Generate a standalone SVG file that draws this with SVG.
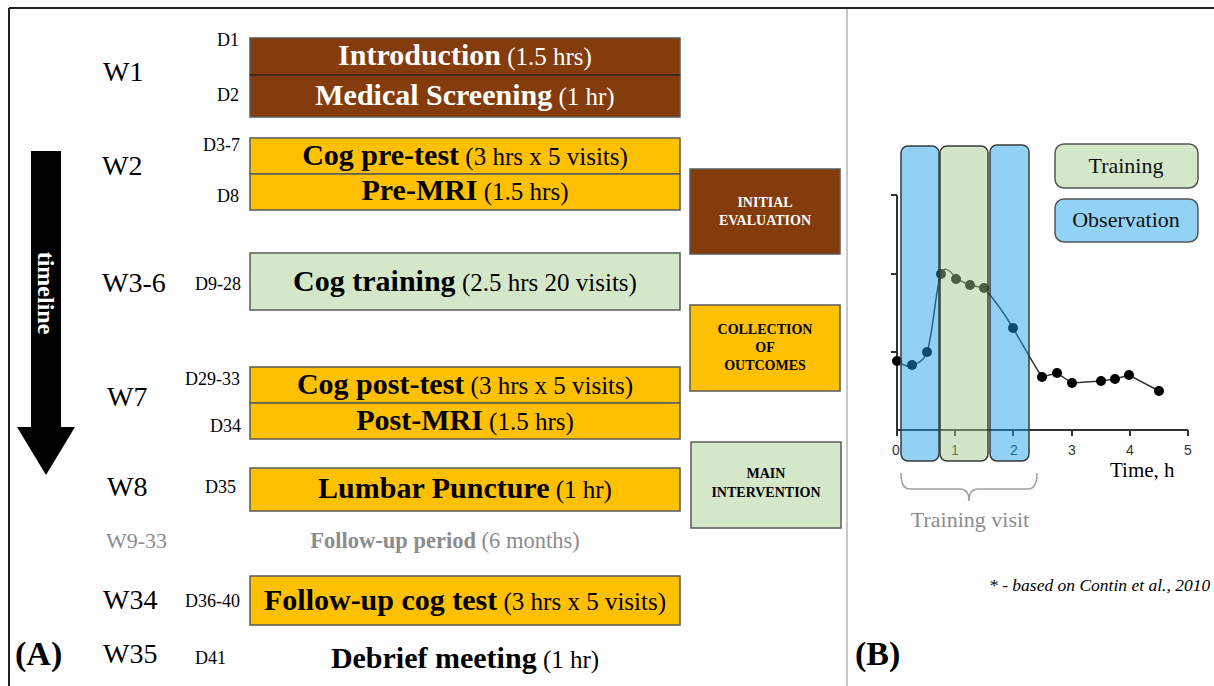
<svg xmlns="http://www.w3.org/2000/svg" width="1214" height="686" viewBox="0 0 1214 686">
<style>
text{font-family:"Liberation Serif","Times New Roman",serif;}
.w{font-size:28px;fill:#000;}
.d{font-size:18px;fill:#000;}
.bx{stroke:#5a5a5a;stroke-width:1.5;}
.brown{fill:#843c0c;}
.yel{fill:#ffc000;}
.grn{fill:#d4e7c9;}
.t{font-size:25px;text-anchor:middle;}
.b{font-weight:bold;font-size:30px;}
.cat{font-size:14px;font-weight:bold;text-anchor:middle;}
.tick{font-family:"Liberation Sans",Arial,sans-serif;font-size:14px;fill:#333;text-anchor:middle;}
.leg{font-size:22px;text-anchor:middle;fill:#111;}
</style>
<rect width="1214" height="686" fill="#fff"/>
<g id="frame">
<line x1="9" y1="8" x2="1214" y2="8" stroke="#222" stroke-width="2"/>
<line x1="9" y1="8" x2="9" y2="686" stroke="#222" stroke-width="2"/>
<line x1="847" y1="9" x2="847" y2="686" stroke="#c8c8c8" stroke-width="2"/>
</g>
<g id="timeline">
<polygon points="31,151 61,151 61,427 75,427 46,475 17,427 31,427" fill="#000"/>
<text transform="translate(38,293) rotate(90)" text-anchor="middle" font-size="24" font-weight="bold" fill="#fff">timeline</text>
</g>
<g id="weeks">
<text class="w" x="103" y="81">W1</text>
<text class="w" x="102" y="175">W2</text>
<text class="w" x="102" y="292">W3-6</text>
<text class="w" x="107" y="406">W7</text>
<text class="w" x="107" y="496">W8</text>
<text x="106" y="548" font-size="22" fill="#8c8c8c">W9-33</text>
<text class="w" x="103" y="609">W34</text>
<text class="w" x="103" y="663">W35</text>
</g>
<g id="days">
<text class="d" x="217" y="46">D1</text>
<text class="d" x="217" y="101">D2</text>
<text class="d" x="203" y="151">D3-7</text>
<text class="d" x="217" y="202">D8</text>
<text class="d" x="195" y="290">D9-28</text>
<text class="d" x="185" y="385">D29-33</text>
<text class="d" x="210" y="432">D34</text>
<text class="d" x="205" y="493">D35</text>
<text class="d" x="185" y="607">D36-40</text>
<text class="d" x="195" y="664">D41</text>
</g>
<g id="introduction">
<rect class="bx brown" x="250" y="38" width="430" height="37"/>
<text class="t" x="465" y="65" fill="#fff"><tspan class="b">Introduction</tspan> (1.5 hrs)</text>
</g>
<g id="medical-screening">
<rect class="bx brown" x="250" y="75" width="430" height="42"/>
<line x1="250" y1="75" x2="680" y2="75" stroke="#3a1a05" stroke-width="1.5"/>
<text class="t" x="465" y="105" fill="#fff"><tspan class="b">Medical Screening</tspan> (1 hr)</text>
</g>
<g id="cog-pre-test">
<rect class="bx yel" x="250" y="138" width="430" height="36"/>
<text class="t" x="465" y="165"><tspan class="b">Cog pre-test</tspan> (3 hrs x 5 visits)</text>
</g>
<g id="pre-mri">
<rect class="bx yel" x="250" y="174" width="430" height="36"/>
<text class="t" x="465" y="200"><tspan class="b">Pre-MRI</tspan> (1.5 hrs)</text>
</g>
<g id="cog-training">
<rect class="bx grn" x="250" y="253" width="430" height="57"/>
<text class="t" x="465" y="291"><tspan class="b">Cog training</tspan> (2.5 hrs 20 visits)</text>
</g>
<g id="cog-post-test">
<rect class="bx yel" x="250" y="367" width="430" height="36"/>
<text class="t" x="465" y="394"><tspan class="b">Cog post-test</tspan> (3 hrs x 5 visits)</text>
</g>
<g id="post-mri">
<rect class="bx yel" x="250" y="403" width="430" height="36"/>
<text class="t" x="465" y="430"><tspan class="b">Post-MRI</tspan> (1.5 hrs)</text>
</g>
<g id="lumbar-puncture">
<rect class="bx yel" x="250" y="468" width="430" height="43"/>
<text class="t" x="465" y="498"><tspan class="b">Lumbar Puncture</tspan> (1 hr)</text>
</g>
<g id="follow-up-period">
<text x="445" y="548" text-anchor="middle" font-size="22.5" fill="#8c8c8c"><tspan font-weight="bold">Follow-up period</tspan> (6 months)</text>
</g>
<g id="follow-up-cog-test">
<rect class="bx yel" x="250" y="576" width="430" height="49"/>
<text class="t" x="465" y="610"><tspan class="b">Follow-up cog test</tspan> (3 hrs x 5 visits)</text>
</g>
<g id="debrief">
<text class="t" x="465" y="668"><tspan class="b">Debrief meeting</tspan> (1 hr)</text>
</g>
<g id="initial-evaluation">
<rect class="bx brown" x="690" y="169" width="150" height="85"/>
<text class="cat" x="765" y="207" fill="#fff">INITIAL</text>
<text class="cat" x="765" y="225" fill="#fff">EVALUATION</text>
</g>
<g id="collection-of-outcomes">
<rect class="bx yel" x="690" y="305" width="150" height="86"/>
<text class="cat" x="765" y="334">COLLECTION</text>
<text class="cat" x="765" y="352">OF</text>
<text class="cat" x="765" y="370">OUTCOMES</text>
</g>
<g id="main-intervention">
<rect class="bx grn" x="691" y="442" width="150" height="86"/>
<text class="cat" x="766" y="478">MAIN</text>
<text class="cat" x="766" y="497">INTERVENTION</text>
</g>
<text x="15" y="665" font-size="34" font-weight="bold">(A)</text>
<g id="chart">
<g stroke="#333" stroke-width="2" fill="none">
<line x1="897" y1="195" x2="897" y2="430"/>
<line x1="896" y1="430" x2="1188" y2="430"/>
<line x1="891" y1="195" x2="897" y2="195"/>
<line x1="891" y1="274" x2="897" y2="274"/>
<line x1="891" y1="352" x2="897" y2="352"/>
<line x1="897" y1="430" x2="897" y2="436"/>
<line x1="955" y1="430" x2="955" y2="436"/>
<line x1="1013" y1="430" x2="1013" y2="436"/>
<line x1="1072" y1="430" x2="1072" y2="436"/>
<line x1="1130" y1="430" x2="1130" y2="436"/>
<line x1="1188" y1="430" x2="1188" y2="436"/>
</g>
<text class="tick" x="896" y="455">0</text>
<text class="tick" x="955" y="455">1</text>
<text class="tick" x="1014" y="455">2</text>
<text class="tick" x="1072" y="455">3</text>
<text class="tick" x="1130" y="455">4</text>
<text class="tick" x="1188" y="455">5</text>
<text x="1110" y="477" font-size="21">Time, h</text>
<path d="M897,361 C902,364 907,368 912,365 C918,363 923,362 927,352 C933,335 936,285 941,274 C943,268 948,266 956,279 L970,285 L984,288 C995,300 1004,313 1013,328 C1023,345 1032,362 1042,377 L1057,373 L1072,383 L1101,381 L1115,379 L1129,375 L1159,391" fill="none" stroke="#333" stroke-width="1.5"/>
<g fill="#000">
<circle cx="897" cy="361" r="5"/>
<circle cx="912" cy="365" r="5"/>
<circle cx="927" cy="352" r="5"/>
<circle cx="941" cy="274" r="5"/>
<circle cx="956" cy="279" r="5"/>
<circle cx="970" cy="285" r="5"/>
<circle cx="984" cy="288" r="5"/>
<circle cx="1013" cy="328" r="5"/>
<circle cx="1042" cy="377" r="5"/>
<circle cx="1057" cy="373" r="5"/>
<circle cx="1072" cy="383" r="5"/>
<circle cx="1101" cy="381" r="5"/>
<circle cx="1115" cy="379" r="5"/>
<circle cx="1129" cy="375" r="5"/>
<circle cx="1159" cy="391" r="5"/>
</g>
</g>
<g id="observation-bar-1">
<rect x="901" y="146" width="38" height="315" rx="7" fill="#15a0e8" fill-opacity="0.47" stroke="#3a3a3a" stroke-width="1.5"/>
</g>
<g id="training-bar">
<rect x="940" y="146" width="48" height="315" rx="7" fill="#a0c888" fill-opacity="0.47" stroke="#3a3a3a" stroke-width="1.5"/>
</g>
<g id="observation-bar-2">
<rect x="990" y="145" width="39" height="316" rx="7" fill="#15a0e8" fill-opacity="0.47" stroke="#3a3a3a" stroke-width="1.5"/>
</g>
<g id="training-visit">
<path d="M901,473 Q901,489 910,489 L960,489 Q969,489 969,501 Q969,489 978,489 L1028,489 Q1037,489 1037,473" fill="none" stroke="#a0a0a0" stroke-width="1.5"/>
<text x="970" y="527" font-size="22" text-anchor="middle" fill="#8c8c8c">Training visit</text>
</g>
<g id="legend-training">
<rect x="1055" y="144" width="143" height="44" rx="9" fill="#d4e7c9" stroke="#555" stroke-width="1.5"/>
<text class="leg" x="1126" y="173">Training</text>
</g>
<g id="legend-observation">
<rect x="1055" y="199" width="143" height="43" rx="9" fill="#92d3f5" stroke="#555" stroke-width="1.5"/>
<text class="leg" x="1126" y="227">Observation</text>
</g>
<text x="989" y="591" font-size="17.5" font-style="italic">* - based on Contin et al., 2010</text>
<text x="855" y="665" font-size="34" font-weight="bold">(B)</text>
<g id="connectors"></g>
</svg>
